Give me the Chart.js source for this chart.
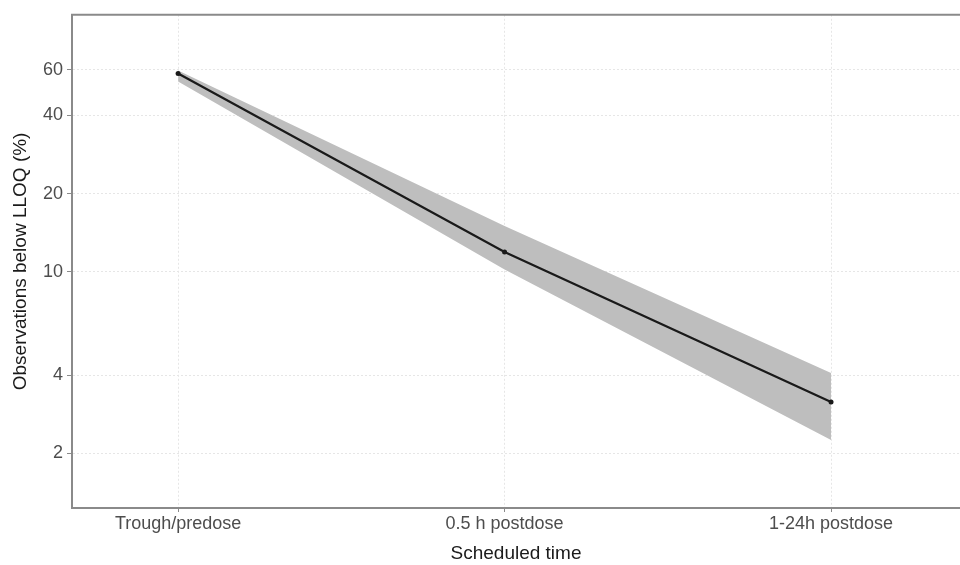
<!DOCTYPE html>
<html>
<head>
<meta charset="utf-8">
<script src="https://cdn.jsdelivr.net/npm/chart.js@4.4.1/dist/chart.umd.min.js"></script>
<style>
  html, body { margin: 0; padding: 0; background: #fff; overflow: hidden; }
  #wrap { width: 960px; height: 565px; overflow: hidden; }
</style>
</head>
<body>
<div id="wrap"><canvas id="llowChart" width="964" height="565"></canvas></div>
<script>
const categories = ['Trough/predose', '0.5 h postdose', '1-24h postdose'];
const pctBelow = [58, 11.9, 3.15];
const pctUpper = [59.5, 15.0, 4.07];
const pctLower = [54, 10.2, 2.25];
const yTicks = [2, 4, 10, 20, 40, 60];

const ctx = document.getElementById('llowChart').getContext('2d');

const toPoints = (arr) => arr.map((v, i) => ({ x: i, y: v }));

// top edge of the panel (right edge is cut off in the reference)
const panelTop = {
  id: 'panelTop',
  afterDraw(chart) {
    const a = chart.chartArea;
    const c = chart.ctx;
    c.save();
    c.strokeStyle = '#8a8a8a';
    c.lineWidth = 2;
    c.beginPath();
    c.moveTo(a.left - 1, a.top);
    c.lineTo(a.right, a.top);
    c.stroke();
    c.restore();
  }
};

new Chart(ctx, {
  type: 'line',
  data: {
    datasets: [
      {
        label: 'upper',
        data: toPoints(pctUpper),
        borderWidth: 0,
        pointRadius: 0,
        backgroundColor: '#bebebe',
        fill: '+1',
        order: 2
      },
      {
        label: 'lower',
        data: toPoints(pctLower),
        borderWidth: 0,
        pointRadius: 0,
        backgroundColor: '#bebebe',
        fill: false,
        order: 3
      },
      {
        label: 'Observations below LLOQ',
        data: toPoints(pctBelow),
        borderColor: '#1a1a1a',
        borderWidth: 2.2,
        pointRadius: 2.5,
        pointBackgroundColor: '#1a1a1a',
        pointBorderWidth: 0,
        fill: false,
        order: 0
      }
    ]
  },
  options: {
    responsive: false,
    animation: false,
    layout: { padding: { top: 12, right: 0, left: 0, bottom: 0 } },
    plugins: {
      legend: { display: false },
      tooltip: { enabled: false }
    },
    scales: {
      x: {
        type: 'linear',
        min: -0.325,
        max: 2.395,
        afterBuildTicks: (scale) => {
          scale.ticks = categories.map((c, i) => ({ value: i }));
        },
        afterFit: (scale) => { scale.height = 57; },
        ticks: {
          callback: (v) => categories[v],
          color: '#4d4d4d',
          font: { family: 'Liberation Sans', size: 18 },
          padding: 1,
          maxRotation: 0
        },
        grid: {
          color: '#e6e6e6',
          lineWidth: 1,
          tickLength: 4,
          tickColor: '#8a8a8a',
          tickWidth: 1
        },
        border: { color: '#8a8a8a', width: 2, dash: [2, 2] },
        title: {
          display: true,
          text: 'Scheduled time',
          color: '#1a1a1a',
          font: { family: 'Liberation Sans', size: 19 },
          padding: { top: 0, bottom: 0 }
        }
      },
      y: {
        type: 'logarithmic',
        min: 1.23,
        max: 97.6,
        afterBuildTicks: (scale) => {
          scale.ticks = yTicks.map((v) => ({ value: v }));
        },
        afterFit: (scale) => { scale.width = 72; },
        ticks: {
          callback: (v) => String(v),
          color: '#4d4d4d',
          font: { family: 'Liberation Sans', size: 18 },
          padding: 4
        },
        grid: {
          color: '#e6e6e6',
          lineWidth: 1,
          tickLength: 5,
          tickColor: '#8a8a8a',
          tickWidth: 1
        },
        border: { color: '#8a8a8a', width: 2, dash: [2, 2] },
        title: {
          display: true,
          text: 'Observations below LLOQ (%)',
          color: '#1a1a1a',
          font: { family: 'Liberation Sans', size: 19 },
          padding: { top: 9, bottom: 0 }
        }
      }
    }
  },
  plugins: [panelTop]
});
</script>
</body>
</html>
